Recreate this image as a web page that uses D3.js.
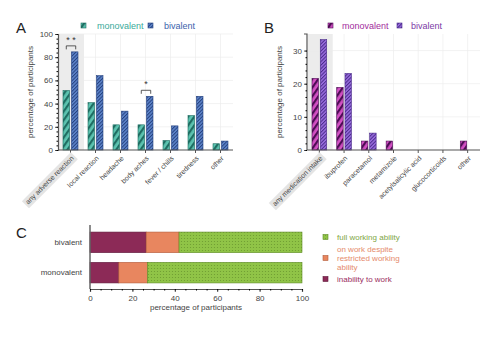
<!DOCTYPE html>
<html lang="en">
<head>
<meta charset="UTF-8">
<title>side effects</title>
<script src="https://cdn.jsdelivr.net/npm/d3@7"></script>
<style>
  body { margin: 0; background: #fff; }
  text { font-family: "Liberation Sans", Arial, sans-serif; }
</style>
</head>
<body>
<svg class="chart"></svg>
<script>
  // ---- data ----
  const seriesNames = ["monovalent", "bivalent"];
  const reactionCats = ["any adverse reaction", "local reaction", "headache", "body aches", "fever / chills", "tiredness", "other"];
  const reactionMono = [51.3, 40.8, 21.7, 21.7, 8.2, 29.7, 5.4];
  const reactionBiv = [84.6, 64.1, 33.5, 46.3, 20.8, 46.3, 7.7];
  const medCats = ["any medication intake", "ibuprofen", "paracetamol", "metamizole", "acetylsalicylic acid", "glucocorticoids", "other"];
  const medMono = [21.6, 18.9, 2.7, 2.7, 0, 0, 2.7];
  const medBiv = [33.3, 23.1, 5.1, 0, 0, 0, 0];
  const workGroups = ["bivalent", "monovalent"];
  const workCats = ["inability to work", "on work despite restricted working ability", "full working ability"];
  const workInability = [26.5, 13.6];
  const workRestricted = [15.5, 13.5];
  const workFull = [58.0, 72.9];
  const reactionTicks = [0, 20, 40, 60, 80, 100];
  const medTicks = [0, 10, 20, 30];
  const workTicks = [0, 20, 40, 60, 80, 100];

  const svg = d3.select(".chart").attr("width", 500).attr("height", 339);
  const defs = svg.append("defs");

  // fill patterns: stripes for monovalent, fine hatch for bivalent
  function stripes(id, bg, fg) {
    const p = defs.append("pattern").attr("id", id).attr("patternUnits", "userSpaceOnUse")
      .attr("width", 5).attr("height", 5).attr("patternTransform", "rotate(35)");
    p.append("rect").attr("width", 5).attr("height", 5).attr("fill", bg);
    p.append("rect").attr("width", 2.2).attr("height", 5).attr("fill", fg);
  }
  function hatch(id, bg, fg) {
    const p = defs.append("pattern").attr("id", id).attr("patternUnits", "userSpaceOnUse")
      .attr("width", 2.5).attr("height", 2.5).attr("patternTransform", "rotate(45)");
    p.append("rect").attr("width", 2.5).attr("height", 2.5).attr("fill", bg);
    p.append("rect").attr("width", 1).attr("height", 2.5).attr("fill", fg);
  }
  function dots(id, bg, fg) {
    const p = defs.append("pattern").attr("id", id).attr("patternUnits", "userSpaceOnUse")
      .attr("width", 3).attr("height", 3);
    p.append("rect").attr("width", 3).attr("height", 3).attr("fill", bg);
    p.append("circle").attr("cx", 1.5).attr("cy", 1.5).attr("r", 0.6).attr("fill", fg);
  }
  stripes("monoA", "#5cc3b0", "#1f6d62");
  hatch("bivA", "#5f86cc", "#24407e");
  stripes("monoB", "#d350c4", "#4d0c55");
  hatch("bivB", "#9a6ee0", "#4a2a8a");
  dots("fullC", "#90c447", "#6d9a30");

  function barPanel(opt) {
    const g = svg.append("g");
    const x = d3.scaleBand().domain(opt.cats).range([opt.x0, opt.x1]);
    const xs = d3.scaleBand().domain(seriesNames).range([5, x.bandwidth() - 5]).paddingInner(0.22);
    const y = d3.scaleLinear().domain(opt.domain).range([150, 34]);

    // shaded first category
    g.append("rect").attr("x", x(opt.cats[0]) + 1).attr("y", 34)
      .attr("width", x.bandwidth()).attr("height", 116).attr("fill", "#ececec");

    // grid
    g.selectAll(".gx").data(opt.cats).join("line")
      .attr("x1", d => x(d) + x.bandwidth() / 2).attr("x2", d => x(d) + x.bandwidth() / 2)
      .attr("y1", 34).attr("y2", 150).attr("stroke", "#ececec").attr("stroke-width", 0.7);
    g.selectAll(".gy").data(opt.ticks.slice(1)).join("line")
      .attr("x1", opt.x0).attr("x2", opt.x1).attr("y1", d => y(d)).attr("y2", d => y(d))
      .attr("stroke", "#ececec").attr("stroke-width", 0.7);

    // bars
    opt.values.forEach((vals, si) => {
      g.selectAll(".b" + si).data(vals).join("rect")
        .attr("x", (d, i) => x(opt.cats[i]) + xs(seriesNames[si]))
        .attr("y", d => y(d))
        .attr("width", xs.bandwidth())
        .attr("height", d => y(0) - y(d))
        .attr("fill", d => d > 0 ? `url(#${opt.fills[si]})` : "none")
        .attr("stroke", opt.edges[si]).attr("stroke-width", d => d > 0 ? 0.6 : 0);
    });

    // y axis
    const ya = g.append("g").attr("transform", `translate(${opt.x0},0)`)
      .call(d3.axisLeft(y).tickValues(opt.ticks).tickSize(3).tickPadding(2));
    g.append("g").attr("transform", `translate(${opt.x0},0)`)
      .call(d3.axisLeft(y).tickValues(d3.range(opt.domain[0], opt.ticks[opt.ticks.length - 1] + 0.1, opt.minor)).tickSize(1.5).tickFormat(""))
      .call(a => a.select(".domain").remove());
    ya.select(".domain").attr("stroke", "#555").attr("stroke-width", 1.2);
    ya.selectAll("line").attr("stroke", "#555");
    ya.selectAll("text").attr("font-size", 8).attr("fill", "#444");
    if (opt.domain[1] > opt.ticks[opt.ticks.length - 1]) {
      ya.select(".domain").attr("d", `M-3,${y(opt.domain[1])}H0V${y(0)}`);
    }

    // x axis
    const xa = g.append("g").attr("transform", "translate(0,150)")
      .call(d3.axisBottom(x).tickSize(3).tickFormat(""));
    xa.select(".domain").attr("d", `M${opt.x0},0H${opt.x1}`).attr("stroke", "#555").attr("stroke-width", 1.2);
    xa.selectAll("line").attr("stroke", "#555");

    // rotated category labels
    const lbl = g.selectAll(".cl").data(opt.cats).join("g")
      .attr("transform", d => `translate(${x(d) + x.bandwidth() / 2 + 2},${157}) rotate(-45)`);
    lbl.each(function (d, i) {
      const t = d3.select(this).append("text").attr("text-anchor", "end").attr("dy", "0.35em")
        .attr("font-size", 7).attr("fill", "#444").text(d);
      if (i === 0) {
        const bb = t.node().getBBox();
        d3.select(this).insert("rect", "text").attr("x", bb.x - 2).attr("y", bb.y - 1)
          .attr("width", bb.width + 4).attr("height", bb.height + 2).attr("fill", "#e4e4e4");
      }
    });

    // axis title
    g.append("text").attr("transform", `translate(${opt.x0 - 25},92) rotate(-90)`)
      .attr("text-anchor", "middle").attr("font-size", 8).attr("fill", "#444")
      .text("percentage of participants");

    // panel letter
    svg.append("text").attr("x", opt.letterX).attr("y", 33).attr("font-size", 15)
      .attr("fill", "#222").text(opt.letter);

    // legend
    const lg = g.append("g").attr("transform", `translate(${opt.legendX},26)`);
    let off = 0;
    seriesNames.forEach((s, si) => {
      lg.append("rect").attr("x", off).attr("y", -3).attr("width", 5).attr("height", 5)
        .attr("fill", `url(#${opt.fills[si]})`).attr("stroke", opt.edges[si]).attr("stroke-width", 0.6);
      lg.append("text").attr("x", off + opt.legendGap).attr("y", 0).attr("dy", "0.35em")
        .attr("font-size", 9).attr("fill", opt.textColors[si]).text(s);
      off += opt.legendStep;
    });
    return { g, x, y, xs };
  }

  const pA = barPanel({
    cats: reactionCats, values: [reactionMono, reactionBiv], x0: 58, x1: 233,
    domain: [0, 100], ticks: reactionTicks, minor: 4,
    fills: ["monoA", "bivA"], edges: ["#1f6d62", "#24407e"], textColors: ["#3aa99a", "#3c63ac"],
    letter: "A", letterX: 16, legendX: 81, legendGap: 16, legendStep: 67
  });
  barPanel({
    cats: medCats, values: [medMono, medBiv], x0: 307, x1: 480,
    domain: [0, 35], ticks: medTicks, minor: 2,
    fills: ["monoB", "bivB"], edges: ["#4d0c55", "#4a2a8a"], textColors: ["#a22b9c", "#7b3aa6"],
    letter: "B", letterX: 264, legendX: 328, legendGap: 14, legendStep: 69
  });

  // significance brackets on panel A
  const sig = [{ cat: "any adverse reaction", mark: "* *" }, { cat: "body aches", mark: "*" }];
  sig.forEach(s => {
    const i = reactionCats.indexOf(s.cat);
    const top = Math.max(reactionMono[i], reactionBiv[i]);
    const xL = pA.x(s.cat) + pA.xs("monovalent") + pA.xs.bandwidth() / 2;
    const xR = pA.x(s.cat) + pA.xs("bivalent") + pA.xs.bandwidth() / 2 + 1;
    const yb = pA.y(top) - 6;
    pA.g.append("path").attr("d", `M${xL},${yb + 3.5}V${yb}H${xR}V${yb + 3.5}`)
      .attr("fill", "none").attr("stroke", "#333").attr("stroke-width", 0.8);
    pA.g.append("text").attr("x", (xL + xR) / 2).attr("y", yb - 3).attr("text-anchor", "middle")
      .attr("font-size", 9).attr("fill", "#333").text(s.mark);
  });

  // ---- panel C: stacked horizontal bars ----
  const gC = svg.append("g");
  const xC = d3.scaleLinear().domain([0, 100]).range([90, 302]);
  const yC = d3.scaleBand().domain(workGroups).range([226, 289]).paddingInner(0.32).paddingOuter(0.2);
  const workVals = [workInability, workRestricted, workFull];
  const workFills = ["#8c2a57", "#e8865f", "url(#fullC)"];
  const workEdges = ["#5e1a3a", "#b25a3a", "#5e8a25"];
  const stackData = workGroups.map((grp, gi) => {
    const o = { group: grp };
    workCats.forEach((c, ci) => { o[c] = workVals[ci][gi]; });
    return o;
  });
  const stacked = d3.stack().keys(workCats)(stackData);
  gC.selectAll(".layer").data(stacked).join("g")
    .attr("fill", (d, i) => workFills[i])
    .attr("stroke", (d, i) => workEdges[i]).attr("stroke-width", 0.6)
    .selectAll("rect").data(d => d).join("rect")
    .attr("x", d => xC(d[0])).attr("width", d => xC(d[1]) - xC(d[0]))
    .attr("y", d => yC(d.data.group)).attr("height", yC.bandwidth());

  const xaC = gC.append("g").attr("transform", "translate(0,289)")
    .call(d3.axisBottom(xC).tickValues(workTicks).tickSize(3).tickPadding(3));
  gC.append("g").attr("transform", "translate(0,289)")
    .call(d3.axisBottom(xC).tickValues(d3.range(0, 101, 5)).tickSize(1.5).tickFormat(""))
    .call(a => a.select(".domain").remove());
  xaC.select(".domain").attr("stroke", "#555").attr("stroke-width", 1.2);
  xaC.selectAll("line").attr("stroke", "#555");
  xaC.selectAll("text").attr("font-size", 8).attr("fill", "#444");
  gC.append("line").attr("x1", 90).attr("x2", 90).attr("y1", 225).attr("y2", 289)
    .attr("stroke", "#666").attr("stroke-width", 1.5);
  gC.selectAll(".gl").data(workGroups).join("text")
    .attr("x", 82).attr("y", d => yC(d) + yC.bandwidth() / 2).attr("dy", "0.35em")
    .attr("text-anchor", "end").attr("font-size", 8).attr("fill", "#444").text(d => d);
  gC.append("text").attr("x", 196).attr("y", 310).attr("text-anchor", "middle")
    .attr("font-size", 8).attr("fill", "#444").text("percentage of participants");
  svg.append("text").attr("x", 16).attr("y", 238).attr("font-size", 15).attr("fill", "#222").text("C");

  // legend C (top to bottom: full, restricted, inability)
  const legC = [
    { i: 2, lines: ["full working ability"], y: 237, color: "#7ea646" },
    { i: 1, lines: ["on work despite", "restricted working", "ability"], y: 258, color: "#e58a6b" },
    { i: 0, lines: ["inability to work"], y: 279, color: "#9a2d5e" }
  ];
  legC.forEach(l => {
    gC.append("rect").attr("x", 323).attr("y", l.y - 2.5).attr("width", 5).attr("height", 5)
      .attr("fill", workFills[l.i]).attr("stroke", workEdges[l.i]).attr("stroke-width", 0.6);
    const n = l.lines.length;
    const t = gC.append("text").attr("x", 337).attr("font-size", 8).attr("fill", l.color);
    l.lines.forEach((s, k) => {
      t.append("tspan").attr("x", 337).attr("y", l.y + (k - (n - 1) / 2) * 8.7).attr("dy", "0.35em").text(s);
    });
  });
</script>
</body>
</html>
